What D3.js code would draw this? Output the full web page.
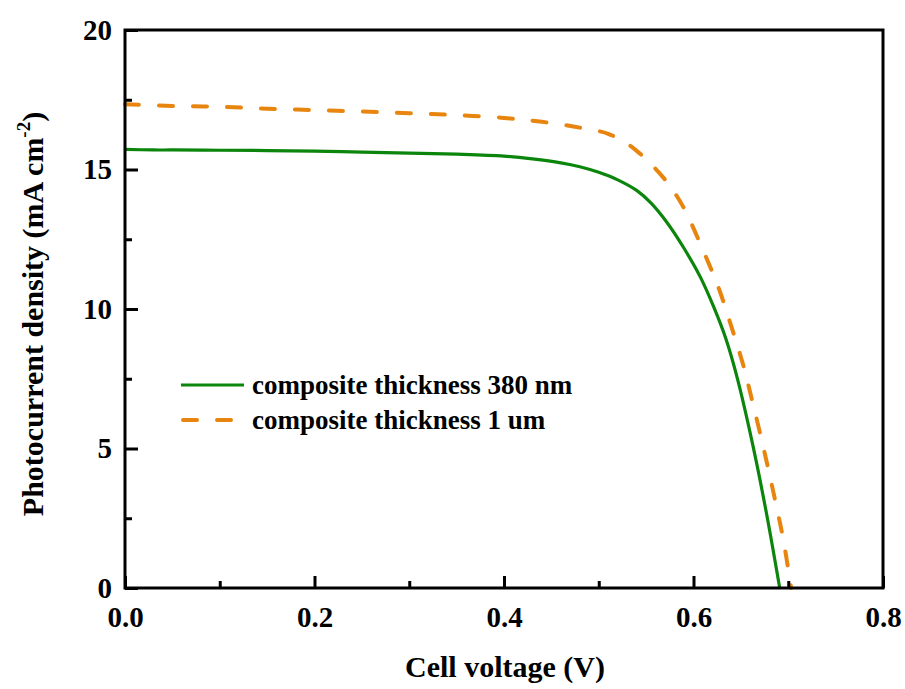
<!DOCTYPE html>
<html>
<head>
<meta charset="utf-8">
<script src="https://cdn.jsdelivr.net/npm/d3@7"></script>
<style>
  html, body { margin: 0; padding: 0; background: #fff; }
  svg text { font-family: "Liberation Serif", "Times New Roman", serif; font-weight: bold; fill: #000; }
</style>
</head>
<body>
<svg id="chart" width="905" height="689"></svg>
<script>
// J–V curves of two cells with different composite layer thickness
const voltage380 = [0, 0.03, 0.05, 0.1, 0.15, 0.2, 0.25, 0.3, 0.35, 0.4, 0.43, 0.46, 0.48, 0.5, 0.52, 0.54,
  0.555, 0.572, 0.589, 0.607, 0.621, 0.634, 0.646, 0.663, 0.677, 0.691];
const current380 = [15.72, 15.70, 15.70, 15.69, 15.68, 15.66, 15.62, 15.59, 15.55, 15.48, 15.38, 15.24, 15.10, 14.90, 14.63, 14.25,
  13.80, 13.10, 12.23, 11.16, 10.10, 8.95, 7.55, 5.06, 2.68, 0.0];

const voltage1um = [0, 0.05, 0.1, 0.15, 0.2, 0.25, 0.3, 0.35, 0.4, 0.44, 0.48, 0.51, 0.53, 0.541, 0.555,
  0.572, 0.589, 0.61, 0.626, 0.64, 0.653, 0.66, 0.672, 0.68, 0.688, 0.695, 0.703];
const current1um = [17.34, 17.28, 17.25, 17.18, 17.13, 17.08, 17.02, 16.95, 16.85, 16.71, 16.50, 16.28, 15.92, 15.64, 15.20,
  14.55, 13.67, 12.11, 10.80, 9.37, 7.93, 6.98, 5.30, 4.10, 2.85, 1.70, 0.0];

const seriesNames = ["composite thickness 380 nm", "composite thickness 1 um"];
const xTicks = [0, 0.2, 0.4, 0.6, 0.8];
const xMinorTicks = [0.1, 0.3, 0.5, 0.7];
const yTicks = [0, 5, 10, 15, 20];
const yMinorTicks = [2.5, 7.5, 12.5, 17.5];
const xTitle = "Cell voltage (V)";

const svg = d3.select("#chart");
const frame = { left: 125, right: 883, top: 30, bottom: 588 };

const x = d3.scaleLinear().domain([0, 0.8]).range([frame.left, frame.right]);
const y = d3.scaleLinear().domain([0, 20]).range([frame.bottom, frame.top]);

const green = "#0b850b";
const orange = "#e8850e";

// curves
const line = d3.line().x(d => x(d[0])).y(d => y(d[1])).curve(d3.curveCatmullRom.alpha(0.5));
const data380 = voltage380.map((v, i) => [v, current380[i]]);
const data1um = voltage1um.map((v, i) => [v, current1um[i]]);

svg.append("path").datum(data1um).attr("d", line)
  .attr("fill", "none").attr("stroke", orange).attr("stroke-width", 4)
  .attr("stroke-dasharray", "14 20").attr("stroke-linecap", "round").attr("stroke-linejoin", "round");
svg.append("path").datum(data380).attr("d", line)
  .attr("fill", "none").attr("stroke", green).attr("stroke-width", 3.2)
  .attr("stroke-linejoin", "round");

// axes with inward ticks
const xAxis = svg.append("g").attr("transform", `translate(0,${frame.bottom})`)
  .call(d3.axisBottom(x).tickValues(xTicks).tickSize(-12).tickPadding(18).tickFormat(d3.format(".1f")));
const xMinor = svg.append("g").attr("transform", `translate(0,${frame.bottom})`)
  .call(d3.axisBottom(x).tickValues(xMinorTicks).tickSize(-7).tickFormat(""));
const yAxis = svg.append("g").attr("transform", `translate(${frame.left},0)`)
  .call(d3.axisLeft(y).tickValues(yTicks).tickSize(-13).tickPadding(13).tickFormat(d3.format("d")));
const yMinor = svg.append("g").attr("transform", `translate(${frame.left},0)`)
  .call(d3.axisLeft(y).tickValues(yMinorTicks).tickSize(-7).tickFormat(""));

[xAxis, xMinor, yAxis, yMinor].forEach(g => {
  g.select(".domain").remove();
  g.selectAll(".tick line").attr("stroke", "#000").attr("stroke-width", 3);
});
xAxis.selectAll(".tick text").attr("font-size", 29).attr("font-family", "Liberation Serif").attr("font-weight", "bold");
yAxis.selectAll(".tick text").attr("font-size", 29).attr("font-family", "Liberation Serif").attr("font-weight", "bold");

// frame
svg.append("rect")
  .attr("x", frame.left).attr("y", frame.top)
  .attr("width", frame.right - frame.left).attr("height", frame.bottom - frame.top)
  .attr("fill", "none").attr("stroke", "#000").attr("stroke-width", 3);

// axis titles
svg.append("text").attr("x", (frame.left + frame.right) / 2 + 1).attr("y", 677)
  .attr("text-anchor", "middle").attr("font-size", 30).text(xTitle);

const yTitle = svg.append("text")
  .attr("transform", "translate(43,314) rotate(-90)")
  .attr("text-anchor", "middle").attr("font-size", 30);
yTitle.append("tspan").text("Photocurrent density (mA cm");
yTitle.append("tspan").attr("font-size", 19).attr("dy", -13).text("-2");
yTitle.append("tspan").attr("dy", 13).text(")");

// legend
const legend = svg.append("g");
const legendRows = [
  { name: seriesNames[0], color: green, dash: null, width: 3.2, yLine: 385 },
  { name: seriesNames[1], color: orange, dash: "14 20", width: 4, yLine: 420 }
];
legendRows.forEach(r => {
  legend.append("line")
    .attr("x1", r.dash ? 183 : 181).attr("x2", 244).attr("y1", r.yLine).attr("y2", r.yLine)
    .attr("stroke", r.color).attr("stroke-width", r.width)
    .attr("stroke-dasharray", r.dash).attr("stroke-linecap", r.dash ? "round" : "butt");
  legend.append("text").attr("x", 252).attr("y", r.yLine + 9)
    .attr("font-size", 27).text(r.name);
});
</script>
</body>
</html>
